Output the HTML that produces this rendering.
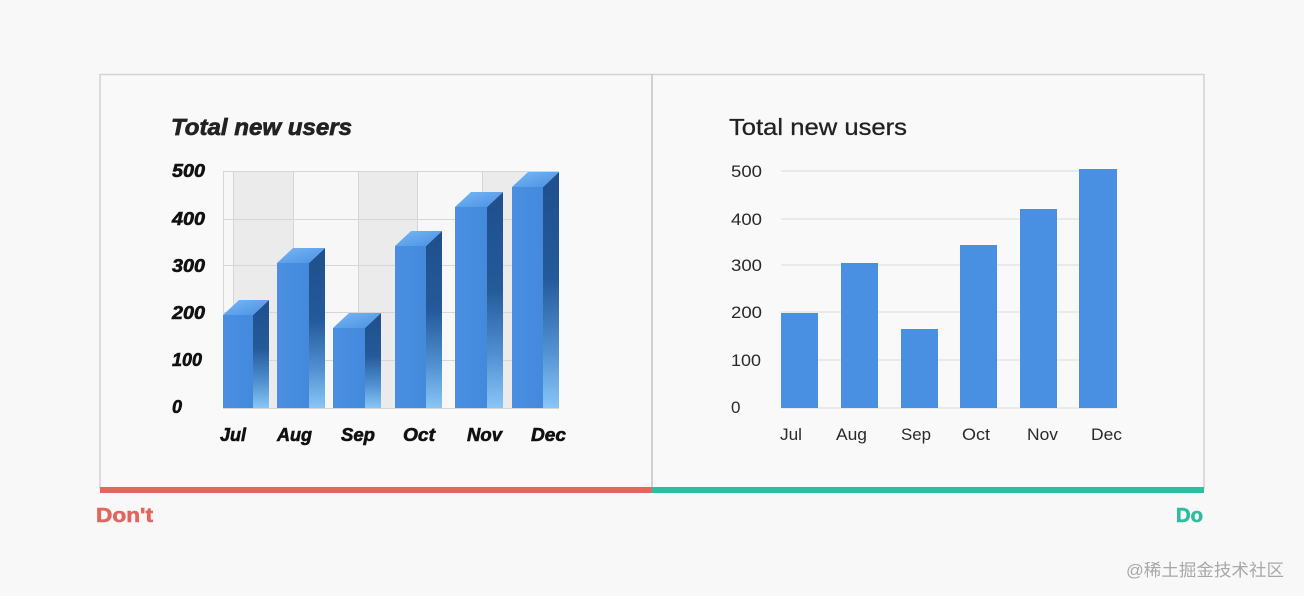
<!DOCTYPE html>
<html>
<head>
<meta charset="utf-8">
<style>
html,body{margin:0;padding:0;background:#f8f8f8;}
svg{display:block;}
</style>
</head>
<body>
<svg width="1304" height="596" viewBox="0 0 1304 596" xmlns="http://www.w3.org/2000/svg">
<defs>
  <linearGradient id="side" x1="0" y1="0" x2="0" y2="1">
    <stop offset="0" stop-color="#1f4f8c"/>
    <stop offset="0.45" stop-color="#245a9a"/>
    <stop offset="0.75" stop-color="#4f8fd0"/>
    <stop offset="1" stop-color="#88c6f6"/>
  </linearGradient>
  <linearGradient id="topf" x1="0" y1="0" x2="1" y2="1">
    <stop offset="0" stop-color="#78b8f6"/>
    <stop offset="1" stop-color="#4a90e2"/>
  </linearGradient>
  <linearGradient id="front" x1="0" y1="0" x2="1" y2="0">
    <stop offset="0" stop-color="#4a8fe2"/>
    <stop offset="1" stop-color="#448adc"/>
  </linearGradient>
</defs>
<rect x="0" y="0" width="1304" height="596" fill="#f8f8f8"/>

<!-- frame -->
<rect x="100" y="74.5" width="1104" height="414" fill="#f9f9f9" stroke="#d3d3d3" stroke-width="1.5"/>
<line x1="652" y1="74" x2="652" y2="488" stroke="#c4c4c4" stroke-width="1.5"/>
<rect x="100" y="487" width="552" height="6" fill="#e2665e"/>
<rect x="652" y="487" width="552" height="6" fill="#2dbd9f"/>

<text x="96" y="522" font-family="Liberation Sans, sans-serif" font-weight="bold" font-size="20" fill="#e2665e" stroke="#e2665e" stroke-width="0.6" textLength="57" lengthAdjust="spacingAndGlyphs">Don't</text>
<text x="1176" y="522" font-family="Liberation Sans, sans-serif" font-weight="bold" font-size="20" fill="#2dbd9f" stroke="#2dbd9f" stroke-width="0.6" textLength="27" lengthAdjust="spacingAndGlyphs">Do</text>

<text x="1126" y="576" font-family="Liberation Sans, 'Noto Sans CJK SC', sans-serif" font-size="17" fill="#a8a8a8" textLength="158" lengthAdjust="spacingAndGlyphs">@稀土掘金技术社区</text>

<!-- LEFT CHART -->
<text x="171" y="135" font-family="Liberation Sans, sans-serif" font-weight="bold" font-style="italic" font-size="23" fill="#222" stroke="#222" stroke-width="0.7" textLength="181" lengthAdjust="spacingAndGlyphs">Total new users</text>

<!-- plot background -->
<rect x="223" y="171" width="336" height="237" fill="#f7f7f7"/>
<rect x="233" y="171" width="60" height="237" fill="#ebebeb"/>
<rect x="358" y="171" width="59" height="237" fill="#ebebeb"/>
<rect x="482" y="171" width="77" height="237" fill="#ebebeb"/>
<g stroke="#d6d6d6" stroke-width="1">
  <line x1="223.5" y1="171" x2="223.5" y2="408"/>
  <line x1="233.5" y1="171" x2="233.5" y2="408"/>
  <line x1="293.5" y1="171" x2="293.5" y2="408"/>
  <line x1="358.5" y1="171" x2="358.5" y2="408"/>
  <line x1="417.5" y1="171" x2="417.5" y2="408"/>
  <line x1="482.5" y1="171" x2="482.5" y2="408"/>
  <line x1="541.5" y1="171" x2="541.5" y2="408"/>
  <line x1="223" y1="171.5" x2="559" y2="171.5"/>
  <line x1="223" y1="219.5" x2="559" y2="219.5"/>
  <line x1="223" y1="265.5" x2="559" y2="265.5"/>
  <line x1="223" y1="312.5" x2="559" y2="312.5"/>
  <line x1="223" y1="360.5" x2="559" y2="360.5"/>
  <line x1="223" y1="408.5" x2="559" y2="408.5"/>
</g>

<g font-family="Liberation Sans, sans-serif" font-weight="bold" font-style="italic" font-size="18" fill="#111" stroke="#111" stroke-width="0.6">
  <text x="172" y="177" textLength="33" lengthAdjust="spacingAndGlyphs">500</text>
  <text x="172" y="225" textLength="33" lengthAdjust="spacingAndGlyphs">400</text>
  <text x="172" y="272" textLength="33" lengthAdjust="spacingAndGlyphs">300</text>
  <text x="172" y="319" textLength="33" lengthAdjust="spacingAndGlyphs">200</text>
  <text x="172" y="366" textLength="30" lengthAdjust="spacingAndGlyphs">100</text>
  <text x="172" y="413">0</text>

  <text x="220" y="441" textLength="26" lengthAdjust="spacingAndGlyphs">Jul</text>
  <text x="277" y="441" textLength="35" lengthAdjust="spacingAndGlyphs">Aug</text>
  <text x="341" y="441" textLength="34" lengthAdjust="spacingAndGlyphs">Sep</text>
  <text x="403" y="441" textLength="32" lengthAdjust="spacingAndGlyphs">Oct</text>
  <text x="467" y="441" textLength="35" lengthAdjust="spacingAndGlyphs">Nov</text>
  <text x="531" y="441" textLength="35" lengthAdjust="spacingAndGlyphs">Dec</text>
</g>

<!-- 3D bars -->
<polygon points="253,315 269,300 269,408 253,408" fill="url(#side)"/>
<polygon points="223,315 239,300 269,300 253,315" fill="url(#topf)"/>
<rect x="223" y="315" width="30" height="93" fill="url(#front)"/>

<polygon points="309,263 325,248 325,408 309,408" fill="url(#side)"/>
<polygon points="277,263 293,248 325,248 309,263" fill="url(#topf)"/>
<rect x="277" y="263" width="32" height="145" fill="url(#front)"/>

<polygon points="365,328 381,313 381,408 365,408" fill="url(#side)"/>
<polygon points="333,328 349,313 381,313 365,328" fill="url(#topf)"/>
<rect x="333" y="328" width="32" height="80" fill="url(#front)"/>

<polygon points="426,246 442,231 442,408 426,408" fill="url(#side)"/>
<polygon points="395,246 411,231 442,231 426,246" fill="url(#topf)"/>
<rect x="395" y="246" width="31" height="162" fill="url(#front)"/>

<polygon points="487,207 503,192 503,408 487,408" fill="url(#side)"/>
<polygon points="455,207 471,192 503,192 487,207" fill="url(#topf)"/>
<rect x="455" y="207" width="32" height="201" fill="url(#front)"/>

<polygon points="543,187 559,172 559,408 543,408" fill="url(#side)"/>
<polygon points="512,187 528,172 559,172 543,187" fill="url(#topf)"/>
<rect x="512" y="187" width="31" height="221" fill="url(#front)"/>

<!-- RIGHT CHART -->
<text x="729" y="135" font-family="Liberation Sans, sans-serif" font-size="23" fill="#222" stroke="#222" stroke-width="0.3" textLength="178" lengthAdjust="spacingAndGlyphs">Total new users</text>

<g stroke="#e2e2e2" stroke-width="1.2">
  <line x1="781" y1="171" x2="1117" y2="171"/>
  <line x1="781" y1="219" x2="1117" y2="219"/>
  <line x1="781" y1="265" x2="1117" y2="265"/>
  <line x1="781" y1="312" x2="1117" y2="312"/>
  <line x1="781" y1="360" x2="1117" y2="360"/>
  <line x1="781" y1="408" x2="1117" y2="408"/>
</g>

<g font-family="Liberation Sans, sans-serif" font-size="17" fill="#2a2a2a">
  <text x="731" y="177" textLength="31" lengthAdjust="spacingAndGlyphs">500</text>
  <text x="731" y="225" textLength="31" lengthAdjust="spacingAndGlyphs">400</text>
  <text x="731" y="271" textLength="31" lengthAdjust="spacingAndGlyphs">300</text>
  <text x="731" y="318" textLength="31" lengthAdjust="spacingAndGlyphs">200</text>
  <text x="731" y="366" textLength="30" lengthAdjust="spacingAndGlyphs">100</text>
  <text x="731" y="413">0</text>

  <text x="780" y="440" textLength="22" lengthAdjust="spacingAndGlyphs">Jul</text>
  <text x="836" y="440" textLength="31" lengthAdjust="spacingAndGlyphs">Aug</text>
  <text x="901" y="440" textLength="30" lengthAdjust="spacingAndGlyphs">Sep</text>
  <text x="962" y="440" textLength="28" lengthAdjust="spacingAndGlyphs">Oct</text>
  <text x="1027" y="440" textLength="31" lengthAdjust="spacingAndGlyphs">Nov</text>
  <text x="1091" y="440" textLength="31" lengthAdjust="spacingAndGlyphs">Dec</text>
</g>

<g fill="#4a90e2">
  <rect x="781" y="313" width="37" height="95"/>
  <rect x="841" y="263" width="37" height="145"/>
  <rect x="901" y="329" width="37" height="79"/>
  <rect x="960" y="245" width="37" height="163"/>
  <rect x="1020" y="209" width="37" height="199"/>
  <rect x="1079" y="169" width="38" height="239"/>
</g>
</svg>
</body>
</html>
